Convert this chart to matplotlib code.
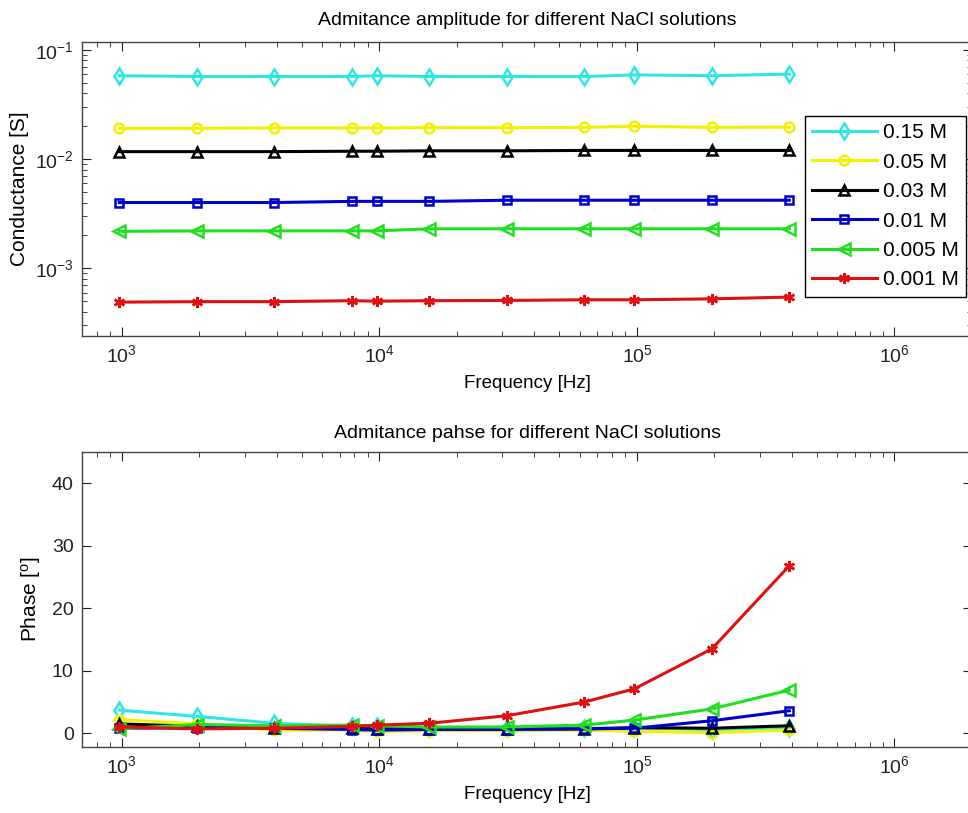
"""
Admittance amplitude and phase of NaCl solutions vs frequency
"""
import numpy as np
import matplotlib
matplotlib.use('Agg')
import matplotlib.pyplot as plt

plt.rcParams['font.family'] = ['Liberation Sans', 'DejaVu Sans']
plt.rcParams['mathtext.default'] = 'regular'
plt.rcParams['axes.unicode_minus'] = False

# measurement frequencies [Hz]
freq = [976.5625, 1953.125, 3906.25, 7812.5, 9765.625, 15625,
        31250, 62500, 97656.25, 195312.5, 390625]

labels = ['0.15 M', '0.05 M', '0.03 M', '0.01 M', '0.005 M', '0.001 M']

# conductance [S]
g_015 = [0.058, 0.057, 0.057, 0.057, 0.058, 0.057, 0.057, 0.057, 0.059, 0.058, 0.060]
g_005 = [0.0191, 0.0191, 0.0193, 0.0193, 0.0193, 0.0194, 0.0194, 0.0195, 0.0200, 0.0195, 0.0196]
g_003 = [0.0117, 0.0117, 0.0117, 0.0118, 0.0118, 0.0119, 0.0119, 0.0120, 0.0120, 0.0120, 0.0120]
g_001 = [0.0040, 0.0040, 0.0040, 0.0041, 0.0041, 0.0041, 0.0042, 0.0042, 0.0042, 0.0042, 0.0042]
g_0005 = [0.00218, 0.0022, 0.0022, 0.0022, 0.0022, 0.0023, 0.0023, 0.0023, 0.0023, 0.0023, 0.0023]
g_0001 = [4.9e-4, 4.95e-4, 4.95e-4, 5.05e-4, 5.0e-4, 5.05e-4, 5.08e-4, 5.15e-4, 5.15e-4, 5.25e-4, 5.45e-4]

# phase [deg]
p_015 = [3.7, 2.7, 1.6, 1.1, 1.1, 0.9, 0.8, 0.8, 0.8, 0.6, 0.8]
p_005 = [2.2, 1.5, 0.5, 0.5, 0.3, 0.4, 0.4, 0.5, 0.3, 0.1, 0.5]
p_003 = [1.5, 1.1, 0.9, 0.8, 0.7, 0.7, 0.7, 0.7, 0.9, 0.8, 1.2]
p_001 = [0.8, 0.9, 0.8, 0.6, 0.5, 0.6, 0.6, 0.7, 0.8, 2.0, 3.6]
p_0005 = [0.7, 1.4, 1.2, 1.3, 1.2, 1.0, 1.0, 1.3, 2.1, 3.9, 6.9]
p_0001 = [1.0, 0.7, 0.8, 1.1, 1.3, 1.6, 2.8, 5.0, 7.1, 13.5, 26.8]

cond = [g_015, g_005, g_003, g_001, g_0005, g_0001]
phase = [p_015, p_005, p_003, p_001, p_0005, p_0001]

colors = ['#2ee6e6', '#f2f200', '#000000', '#0000cc', '#1ee01e', '#e01010']
markers = ['d', 'o', '^', 's', '<', (6, 2, 0)]
msizes = [8.5, 7, 7.5, 6, 8, 8]

fig = plt.figure(figsize=(9.68, 8.13), dpi=100)
ax1 = fig.add_axes([82 / 968, 1 - 336 / 813, 890 / 968, 294 / 813])
ax2 = fig.add_axes([82 / 968, 1 - 747 / 813, 890 / 968, 295 / 813])


def style_axis(ax):
    ax.set_xscale('log')
    ax.set_xlim(700, 2e6)
    ax.tick_params(which='both', direction='in', top=True, right=True,
                   labelsize=14, colors='#222222')
    ax.tick_params(which='major', length=6.5, pad=6)
    ax.tick_params(which='minor', length=3.5)
    for s in ax.spines.values():
        s.set_color('#444444')
        s.set_linewidth(1.0)
    ax.set_xlabel('Frequency [Hz]', fontsize=13.5, labelpad=6)


for vals, c, m, ms, lab in zip(cond, colors, markers, msizes, labels):
    ax1.plot(freq, vals, color=c, marker=m, markersize=ms, mfc='none',
             mec=c, mew=1.8, lw=2.2, label=lab)
ax1.set_yscale('log')
ax1.set_ylim(2.4e-4, 0.118)
style_axis(ax1)
ax1.set_ylabel('Conductance [S]', fontsize=15, labelpad=4)
ax1.set_title('Admitance amplitude for different NaCl solutions', fontsize=14, pad=12)

leg = ax1.legend(loc='upper right', bbox_to_anchor=(966 / 968, 1 - 116 / 813),
                 bbox_transform=fig.transFigure, borderaxespad=0, fontsize=15,
                 fancybox=False, framealpha=1, edgecolor='black',
                 handlelength=3.1, labelspacing=0.5, borderpad=0.35,
                 handletextpad=0.3)
leg.get_frame().set_linewidth(1.0)

for vals, c, m, ms in zip(phase, colors, markers, msizes):
    ax2.plot(freq, vals, color=c, marker=m, markersize=ms, mfc='none',
             mec=c, mew=1.8, lw=2.2)
ax2.set_ylim(-2.2, 45)
ax2.set_yticks([0, 10, 20, 30, 40])
style_axis(ax2)
ax2.set_ylabel('Phase [$^o$]', fontsize=15, labelpad=6)
ax2.set_title('Admitance pahse for different NaCl solutions', fontsize=14, pad=10)

fig.savefig('out.png', dpi=100)
plt.close(fig)
